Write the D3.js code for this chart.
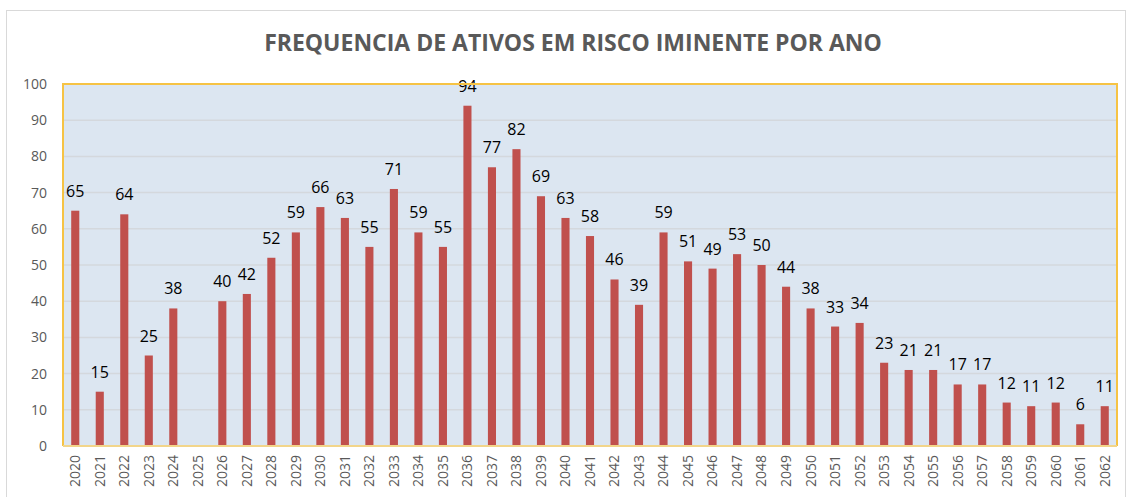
<!DOCTYPE html>
<html>
<head>
<meta charset="utf-8">
<script src="https://cdn.jsdelivr.net/npm/d3@7"></script>
<style>
  body { margin: 0; background: #fff; }
  text { font-family: "Open Sans", "Noto Sans", sans-serif; }
</style>
</head>
<body>
<div id="chart"></div>
<script>
const years = d3.range(2020, 2063).map(String);
const counts = [65, 15, 64, 25, 38, null, 40, 42, 52, 59, 66, 63, 55, 71, 59, 55,
    94, 77, 82, 69, 63, 58, 46, 39, 59, 51, 49, 53, 50, 44, 38, 33, 34, 23, 21, 21,
    17, 17, 12, 11, 12, 6, 11];
const yTicks = [0, 10, 20, 30, 40, 50, 60, 70, 80, 90, 100];
const title = 'FREQUENCIA DE ATIVOS EM RISCO IMINENTE POR ANO';

let
    width = 1129,
    height = 497,
    margin = { left: 63, right: 12, top: 84, bottom: 51 },

    svg = d3.select('#chart')
        .append('svg')
        .attr('width', width)
        .attr('height', height),

    x = d3.scaleBand()
        .domain(years)
        .range([margin.left, width - margin.right])
        .paddingInner(0.67)
        .paddingOuter(0.335),

    y = d3.scaleLinear()
        .domain([0, 100])
        .range([height - margin.bottom, margin.top]);

// outer chart border
svg.append('rect')
    .attr('x', 6.5)
    .attr('y', 10.5)
    .attr('width', width - 10)
    .attr('height', height - 8)
    .style('fill', 'none')
    .style('stroke', '#d9d9d9');

// plot area
svg.append('rect')
    .attr('x', margin.left)
    .attr('y', margin.top)
    .attr('width', width - margin.left - margin.right)
    .attr('height', height - margin.top - margin.bottom)
    .style('fill', '#dce6f1');

// grid
svg.append('g')
    .selectAll('line')
    .data(yTicks.filter(d => d > 0 && d < 100))
    .join('line')
    .attr('x1', margin.left)
    .attr('x2', width - margin.right)
    .attr('y1', d => y(d))
    .attr('y2', d => y(d))
    .style('stroke', '#d4d8dd')
    .style('stroke-width', 1.5);

let rows = years.map((d, i) => ({ year: d, v: counts[i] })).filter(d => d.v != null);

// bars
svg.append('g')
    .selectAll('rect')
    .data(rows)
    .join('rect')
    .attr('x', d => x(d.year))
    .attr('y', d => y(d.v))
    .attr('width', x.bandwidth())
    .attr('height', d => y(0) - y(d.v))
    .style('fill', '#c0504d');

// data labels
svg.append('g')
    .selectAll('text')
    .data(rows)
    .join('text')
    .attr('x', d => x(d.year) + x.bandwidth() / 2)
    .attr('y', d => y(d.v) - 14)
    .attr('text-anchor', 'middle')
    .style('font-size', '16px')
    .style('fill', '#000')
    .text(d => d.v);

// plot border (gold)
svg.append('path')
    .attr('d', `M${margin.left},${height - margin.bottom}V${margin.top}H${width - margin.right}V${height - margin.bottom}`)
    .style('fill', 'none')
    .style('stroke', '#f6c344')
    .style('stroke-width', 2);

svg.append('line')
    .attr('x1', margin.left)
    .attr('x2', width - margin.right)
    .attr('y1', y(0))
    .attr('y2', y(0))
    .style('stroke', '#f2d58a')
    .style('stroke-width', 2);

// y axis
let yAxis = svg.append('g')
    .attr('transform', `translate(${margin.left},0)`)
    .call(d3.axisLeft(y).tickValues(yTicks).tickSize(0).tickPadding(16));
yAxis.select('.domain').remove();
yAxis.selectAll('text')
    .style('font-size', '14px')
    .style('fill', '#595959')
    .style('font-family', '"Open Sans", sans-serif');

// x axis
let xAxis = svg.append('g')
    .attr('transform', `translate(0,${y(0)})`)
    .call(d3.axisBottom(x).tickSize(0));
xAxis.select('.domain').remove();
xAxis.selectAll('text')
    .attr('transform', 'rotate(-90)')
    .attr('x', -9)
    .attr('y', 0)
    .attr('dy', '0.35em')
    .attr('text-anchor', 'end')
    .style('font-size', '14px')
    .style('fill', '#595959')
    .style('font-family', '"Open Sans", sans-serif');

// title
svg.append('text')
    .attr('x', 573)
    .attr('y', 51)
    .attr('text-anchor', 'middle')
    .style('font-size', '23px')
    .style('font-weight', 700)
    .style('fill', '#595959')
    .text(title);
</script>
</body>
</html>
